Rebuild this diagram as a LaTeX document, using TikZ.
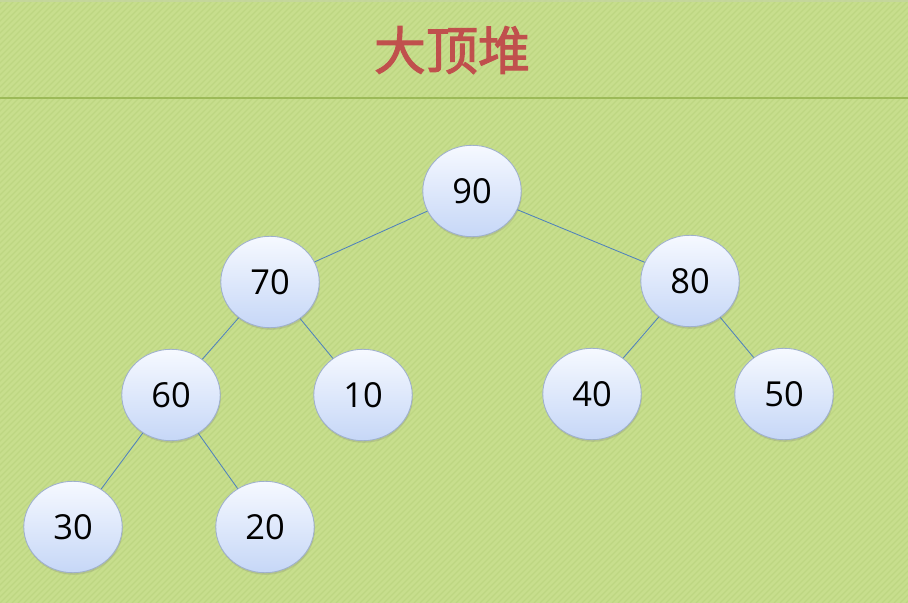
\documentclass[tikz,border=0pt]{standalone}
\usepackage{fontspec}
\newfontfamily\nodefont{Open Sans}
\newfontfamily\cjk{Noto Sans CJK SC}[FakeBold=2]
\usetikzlibrary{shapes.geometric,shadows}
\definecolor{bggreen}{HTML}{C7DE8D}
\definecolor{stripegreen}{HTML}{BDD682}
\definecolor{rulegreen}{HTML}{9CBA58}
\definecolor{titlered}{HTML}{C0504D}
\definecolor{edgeblue}{HTML}{4F81BD}
\definecolor{nodetop}{HTML}{F6F9FF}
\definecolor{nodebottom}{HTML}{C6D7F7}
\definecolor{nodeborder}{HTML}{9FB0CC}
\tikzset{
	heapnode/.style={ellipse, draw=nodeborder, line width=0.6pt, top color=nodetop, bottom color=nodebottom,
		minimum width=70pt, minimum height=65pt, inner sep=0pt, font=\nodefont\fontsize{24.5}{24.5}\selectfont,
		drop shadow={shadow xshift=0.5pt, shadow yshift=-1.5pt, opacity=0.25}},
	heapedge/.style={draw=edgeblue, line width=0.6pt},
	stripe/.style={stripegreen, line width=0.9pt}
}
\begin{document}
\begin{tikzpicture}[x=0.025cm, y=-0.025cm]
	\useasboundingbox (0, 0) rectangle (908, 603);
	% background
	\fill[bggreen] (0, 0) rectangle (908, 603);
	\begin{scope}
		\clip (0, 0) rectangle (908, 603);
		\foreach \i in {-606,-600,...,912}
			\draw[stripe] (\i, 603) -- ++(603, -603);
	\end{scope}
	\draw[rulegreen, line width=1.8pt] (0, 98) -- (908, 98);
	\draw[rulegreen!60, line width=1pt] (0, 1) -- (908, 1);
	\node[titlered, font=\cjk\fontsize{37}{37}\selectfont] (title) at (452, 50) {大顶堆};
	% heap
	\node[heapnode] (n90) at (472, 191) {90};
	\node[heapnode] (n70) at (270, 282) {70};
	\node[heapnode] (n80) at (690, 281) {80};
	\node[heapnode] (n60) at (171, 395) {60};
	\node[heapnode] (n10) at (363, 395) {10};
	\node[heapnode] (n40) at (592, 394) {40};
	\node[heapnode] (n50) at (784, 394) {50};
	\node[heapnode] (n30) at (73, 527) {30};
	\node[heapnode] (n20) at (265, 527) {20};
	\draw[heapedge] (n90) -- (n70);
	\draw[heapedge] (n90) -- (n80);
	\draw[heapedge] (n70) -- (n60);
	\draw[heapedge] (n70) -- (n10);
	\draw[heapedge] (n80) -- (n40);
	\draw[heapedge] (n80) -- (n50);
	\draw[heapedge] (n60) -- (n30);
	\draw[heapedge] (n60) -- (n20);
\end{tikzpicture}
\end{document}
